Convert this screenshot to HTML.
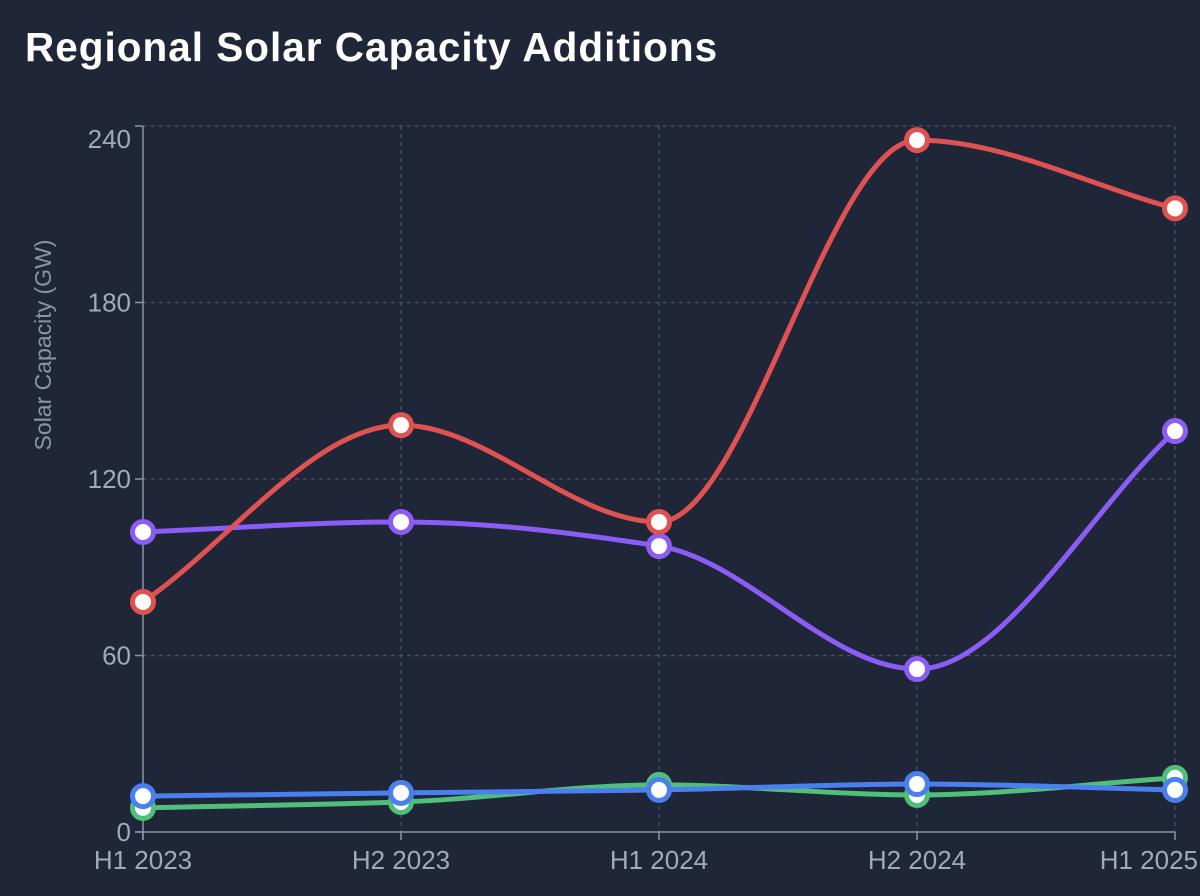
<!DOCTYPE html>
<html><head><meta charset="utf-8"><style>
html,body{margin:0;padding:0;background:#1f2637;}
svg{display:block;font-family:"Liberation Sans",sans-serif;}
</style></head><body>
<svg id="c" width="1200" height="896">
<rect width="1200" height="896" fill="#1f2637"/>
<text x="25" y="61" fill="#ffffff" font-size="40.5" font-weight="bold" letter-spacing="1">Regional Solar Capacity Additions</text>
<text transform="translate(51,345) rotate(-90)" text-anchor="middle" fill="#8a94a8" font-size="23">Solar Capacity (GW)</text>
<g id="grid"></g><g id="axes"></g><g id="lines"></g><g id="marks"></g>
</svg>
<script>
const categories=["H1 2023","H2 2023","H1 2024","H2 2024","H1 2025"];
const yTicks=[0,60,120,180,240];
const seriesNames=["green","blue","purple","red"];
const green=[8.2,10.2,16,12.6,18.4];
const blue=[12.2,13.3,14.3,16.3,14.3];
const purple=[102,105.4,97.2,55.4,136.3];
const red=[78.2,138.3,105.4,235.2,212];
const colors={green:"#4fbf7a",blue:"#4a7ff0",purple:"#8b5cf6",red:"#e05252"};
const data={green,blue,purple,red};
const X0=143,X1=1175,Y0=832,Y1=126,YMAX=240;
const xs=i=>X0+(X1-X0)*i/(categories.length-1);
const ys=v=>Y0-(Y0-Y1)*v/YMAX;
const NS="http://www.w3.org/2000/svg";
function mk(tag,attrs,parent){const e=document.createElementNS(NS,tag);for(const k in attrs)e.setAttribute(k,attrs[k]);document.getElementById(parent).appendChild(e);return e;}
yTicks.forEach((t,k)=>{
 if(t>0){const g=mk("line",{x1:X0,x2:X1,y1:ys(t),y2:ys(t),stroke:"#4a5366","stroke-dasharray":"4,4","stroke-width":1.2},"grid");
 
 }
 const tk=mk("line",{x1:X0-8,x2:X0,y1:ys(t),y2:ys(t),stroke:"#8a94a8","stroke-width":1.5},"axes");
 
 
 const top=k===yTicks.length-1;
 const tx=mk("text",{x:X0-12,y:top?ys(t)+22:ys(t)+9,"text-anchor":"end",fill:"#a0aabb","font-size":"26"},"axes");
 tx.textContent=t;
 
 
});
categories.forEach((c,i)=>{
 if(i>0){const g=mk("line",{x1:xs(i),x2:xs(i),y1:Y1,y2:Y0,stroke:"#4a5366","stroke-dasharray":"4,4","stroke-width":1.2},"grid");
 
 }
 const tk=mk("line",{x1:xs(i),x2:xs(i),y1:Y0,y2:Y0+8,stroke:"#8a94a8","stroke-width":1.5},"axes");
 
 
 const last=i===categories.length-1;
 const tx=mk("text",{x:last?1198:xs(i),y:869,"text-anchor":last?"end":"middle",fill:"#a0aabb","font-size":"26"},"axes");
 tx.textContent=c;
 
 
});
const ya=mk("line",{x1:X0,x2:X0,y1:Y1,y2:Y0+8,stroke:"#8a94a8","stroke-width":1.5},"axes");


const xa=mk("line",{x1:X0-8,x2:X1,y1:Y0,y2:Y0,stroke:"#8a94a8","stroke-width":1.5},"axes");


function monotone(px,py){
 const n=px.length,d=[],m=[];
 for(let i=0;i<n-1;i++)d.push((py[i+1]-py[i])/(px[i+1]-px[i]));
 m[0]=d[0];m[n-1]=d[n-2];
 for(let i=1;i<n-1;i++){ if(d[i-1]*d[i]<=0)m[i]=0; else {const h0=px[i]-px[i-1],h1=px[i+1]-px[i];const w1=2*h1+h0,w2=h1+2*h0;m[i]=(w1+w2)/(w1/d[i-1]+w2/d[i]);}}
 let s=`M${px[0]},${py[0]}`;
 for(let i=0;i<n-1;i++){const h=(px[i+1]-px[i])/3;s+=` C${px[i]+h},${py[i]+m[i]*h} ${px[i+1]-h},${py[i+1]-m[i+1]*h} ${px[i+1]},${py[i+1]}`;}
 return s;
}
seriesNames.forEach(s=>{
 const px=data[s].map((v,i)=>xs(i)),py=data[s].map(v=>ys(v));
 const p=mk("path",{d:monotone(px,py),fill:"none",stroke:colors[s],"stroke-width":5},"lines");
 
 
});
seriesNames.forEach(s=>{
 data[s].forEach((v,i)=>{
  const c=mk("circle",{cx:xs(i),cy:ys(v),r:10.5,fill:"#ffffff",stroke:colors[s],"stroke-width":5},"marks");
  
  
 });
});
</script>
</body></html>
